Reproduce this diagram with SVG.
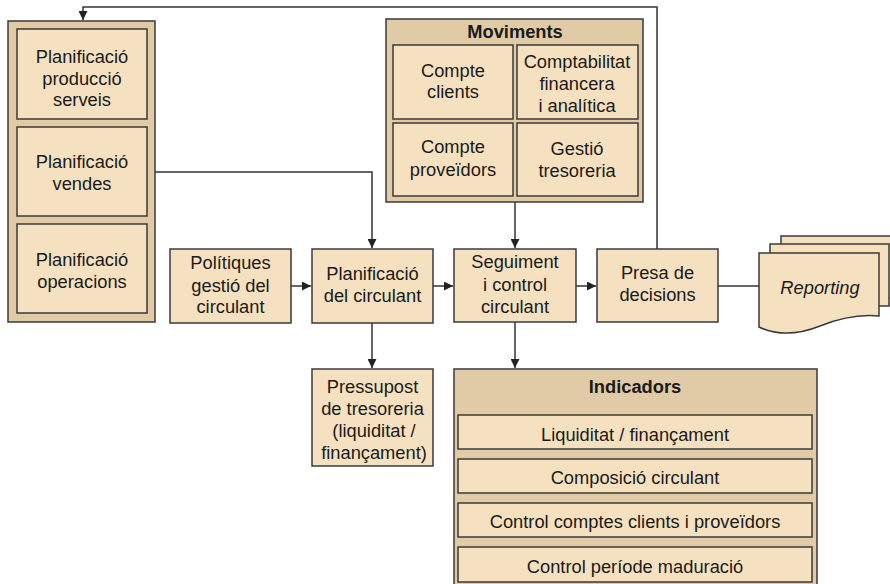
<svg xmlns="http://www.w3.org/2000/svg" width="890" height="584" viewBox="0 0 890 584">
<defs>
<style>
.box{fill:#f5e1c0;stroke:#3a3a3a;stroke-width:1.5}
.cont{fill:#e0cba6;stroke:#3a3a3a;stroke-width:1.5}
.t{font-family:"Liberation Sans",Arial,sans-serif;font-size:18.3px;fill:#1a1a1a;text-anchor:middle}
.b{font-weight:bold}
.i{font-style:italic}
.c{fill:none;stroke:#333;stroke-width:1.5}
</style>
<marker id="ah" viewBox="0 0 10 10" refX="10" refY="5" markerWidth="9" markerHeight="9" markerUnits="userSpaceOnUse" orient="auto">
<path d="M0,0 L10,5 L0,10 z" fill="#222"/>
</marker>
</defs>
<rect width="890" height="584" fill="#fff"/>

<g id="connectors">
<path class="c" d="M657,249 V7 H83 V20" marker-end="url(#ah)"/>
<path class="c" d="M155,172 H372 V248" marker-end="url(#ah)"/>
<path class="c" d="M515,202 V248" marker-end="url(#ah)"/>
<path class="c" d="M291,286 H311" marker-end="url(#ah)"/>
<path class="c" d="M433,286 H453" marker-end="url(#ah)"/>
<path class="c" d="M576,286 H596" marker-end="url(#ah)"/>
<path class="c" d="M372,323 V368" marker-end="url(#ah)"/>
<path class="c" d="M515,322 V368" marker-end="url(#ah)"/>
<path class="c" d="M718,286 H759"/>
</g>

<g id="planificacio-group">
<rect class="cont" x="8" y="21" width="147" height="301"/>
<g id="plan-produccio">
<rect class="box" x="17" y="29" width="130" height="90"/>
<text class="t" x="82" y="63">Planificació</text>
<text class="t" x="82" y="85">producció</text>
<text class="t" x="82" y="106">serveis</text>
</g>
<g id="plan-vendes">
<rect class="box" x="17" y="127" width="130" height="89"/>
<text class="t" x="82" y="168">Planificació</text>
<text class="t" x="82" y="190">vendes</text>
</g>
<g id="plan-operacions">
<rect class="box" x="17" y="224" width="130" height="89"/>
<text class="t" x="82" y="266">Planificació</text>
<text class="t" x="82" y="288">operacions</text>
</g>
</g>

<g id="moviments">
<rect class="cont" x="386" y="19" width="257" height="183"/>
<text class="t b" x="515" y="38">Moviments</text>
<g id="compte-clients">
<rect class="box" x="393" y="45" width="120" height="74"/>
<text class="t" x="453" y="77">Compte</text>
<text class="t" x="453" y="98">clients</text>
</g>
<g id="comptabilitat">
<rect class="box" x="517" y="45" width="121" height="74"/>
<text class="t" x="577" y="68">Comptabilitat</text>
<text class="t" x="577" y="90">financera</text>
<text class="t" x="577" y="112">i analítica</text>
</g>
<g id="compte-proveidors">
<rect class="box" x="393" y="123" width="120" height="73"/>
<text class="t" x="453" y="153">Compte</text>
<text class="t" x="453" y="176">proveïdors</text>
</g>
<g id="gestio-tresoreria">
<rect class="box" x="517" y="123" width="121" height="73"/>
<text class="t" x="577" y="155">Gestió</text>
<text class="t" x="577" y="177">tresoreria</text>
</g>
</g>

<g id="politiques">
<rect class="box" x="170" y="249" width="121" height="74"/>
<text class="t" x="230.5" y="269">Polítiques</text>
<text class="t" x="230.5" y="292">gestió del</text>
<text class="t" x="230.5" y="313">circulant</text>
</g>

<g id="planificacio-circulant">
<rect class="box" x="312" y="249" width="121" height="74"/>
<text class="t" x="372.5" y="280">Planificació</text>
<text class="t" x="372.5" y="302">del circulant</text>
</g>

<g id="pressupost">
<rect class="box" x="312" y="369" width="121" height="97"/>
<text class="t" x="372.5" y="393">Pressupost</text>
<text class="t" x="372.5" y="415">de tresoreria</text>
<text class="t" x="374" y="437">(liquiditat /</text>
<text class="t" x="374" y="459">finançament)</text>
</g>

<g id="seguiment">
<rect class="box" x="454" y="249" width="122" height="73"/>
<text class="t" x="515" y="268">Seguiment</text>
<text class="t" x="515" y="291">i control</text>
<text class="t" x="515" y="313">circulant</text>
</g>

<g id="presa-decisions">
<rect class="box" x="597" y="249" width="121" height="73"/>
<text class="t" x="657.5" y="279">Presa de</text>
<text class="t" x="657.5" y="301">decisions</text>
</g>

<g id="reporting">
<path class="box" d="M781,236 H900 V298 H781 Z"/>
<path class="box" d="M770,244 H889 V306 H770 Z"/>
<path class="box" d="M759,253 H879 V316 C860,314 840,318 820,326 C800,334 778,336 759,327 Z"/>
<text class="t i" x="820" y="294">Reporting</text>
</g>

<g id="indicadors">
<rect class="cont" x="454" y="369" width="363" height="230"/>
<text class="t b" x="635" y="393">Indicadors</text>
<g id="ind-liquiditat">
<rect class="box" x="458" y="415" width="354" height="34"/>
<text class="t" x="635" y="441">Liquiditat / finançament</text>
</g>
<g id="ind-composicio">
<rect class="box" x="458" y="459" width="354" height="34"/>
<text class="t" x="635" y="484">Composició circulant</text>
</g>
<g id="ind-control-comptes">
<rect class="box" x="458" y="503" width="354" height="34"/>
<text class="t" x="635" y="528">Control comptes clients i proveïdors</text>
</g>
<g id="ind-control-periode">
<rect class="box" x="458" y="547" width="354" height="35"/>
<text class="t" x="635" y="573">Control període maduració</text>
</g>
</g>
</svg>
